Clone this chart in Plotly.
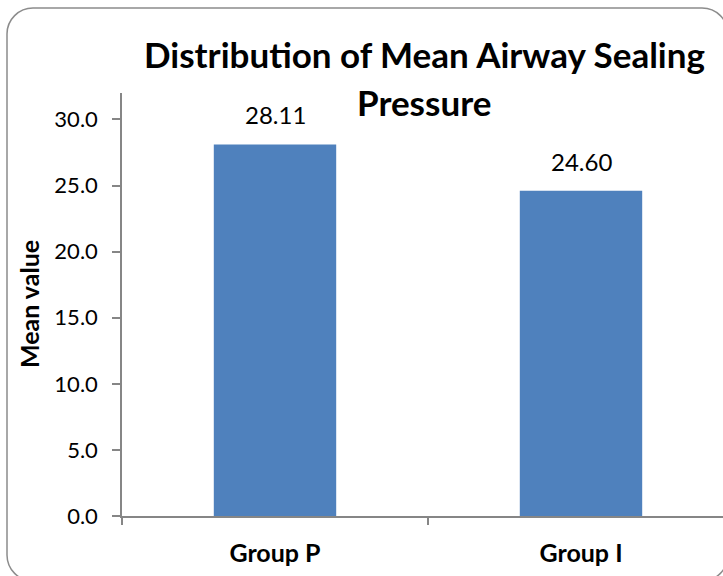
import plotly.graph_objects as go

categories = ["Group P", "Group I"]
values = [28.11, 24.60]
value_labels = ["28.11", "24.60"]
y_tick_values = [0, 5, 10, 15, 20, 25, 30]
y_tick_labels = ["0.0", "5.0", "10.0", "15.0", "20.0", "25.0", "30.0"]
title_lines = ["Distribution of Mean Airway Sealing", "Pressure"]

W, H = 723, 576
PL, PT, PB = 122, 93, 516  # plot area in page pixels
L, T = PL, PT
B = H - PB
R = 0
PW, PH = W - L - R, H - T - B


def px(x):
    return (x - L) / PW


def py(y):
    return (H - B - y) / PH


FONT = "Lato"
AX = "#868686"

fig = go.Figure()
fig.add_trace(go.Bar(
    x=categories, y=values, width=0.4,
    marker=dict(color="#4F81BD", line=dict(width=0)),
    showlegend=False, cliponaxis=False, hoverinfo="skip",
))

for c, v, t in zip(categories, values, value_labels):
    fig.add_annotation(x=c, y=v, text=t, showarrow=False, yanchor="bottom",
                       yshift=13, font=dict(family=FONT, size=24, color="#000000"))

# title, two centred lines
for line, ypix in zip(title_lines, [54, 102]):
    fig.add_annotation(text=f"<b>{line}</b>", x=px(424), y=py(ypix),
                       xref="paper", yref="paper", xanchor="center",
                       yanchor="middle", showarrow=False,
                       font=dict(family=FONT, size=35, color="#000000"))

# y-axis title
fig.add_annotation(text="<b>Mean value</b>", x=px(29), y=py(304),
                   xref="paper", yref="paper", xanchor="center",
                   yanchor="middle", textangle=-90, showarrow=False,
                   font=dict(family=FONT, size=25, color="#000000"))

# rounded outer border (cubic arcs)
r = 26
k = r * 0.5523
x0, y0, x1, y1 = 7, 8, 728, 581


def P(x, y):
    return f"{px(x)} {py(y)}"


path = (f"M {P(x0, y1 - r)} "
        f"L {P(x0, y0 + r)} "
        f"C {P(x0, y0 + r - k)} {P(x0 + r - k, y0)} {P(x0 + r, y0)} "
        f"L {P(x1 - r, y0)} "
        f"C {P(x1 - r + k, y0)} {P(x1, y0 + r - k)} {P(x1, y0 + r)} "
        f"L {P(x1, y1 - r)} "
        f"C {P(x1, y1 - r + k)} {P(x1 - r + k, y1)} {P(x1 - r, y1)} "
        f"L {P(x0 + r, y1)} "
        f"C {P(x0 + r - k, y1)} {P(x0, y1 - r + k)} {P(x0, y1 - r)} Z")
fig.add_shape(type="path", path=path, xref="paper", yref="paper",
              line=dict(color="#8C8C8C", width=1.5), layer="below")

fig.update_layout(
    width=W, height=H,
    margin=dict(l=L, r=R, t=T, b=B, autoexpand=False),
    paper_bgcolor="white", plot_bgcolor="white",
    font=dict(family=FONT, color="#000000"),
    bargap=0.6,
)
fig.update_xaxes(
    type="category", range=[-0.5, -0.5 + PW / 306], showline=True, linecolor=AX,
    linewidth=1.5, ticks="outside", tickson="boundaries", ticklen=7,
    tickcolor=AX, tickwidth=1.5, showgrid=False, zeroline=False,
    tickfont=dict(family=FONT, size=25, color="#000000"),
    ticklabelstandoff=14, automargin=False,
    tickvals=categories, ticktext=[f"<b>{c}</b>" for c in categories],
)
fig.update_yaxes(
    range=[0, 32], tickvals=y_tick_values, ticktext=y_tick_labels,
    showline=True, linecolor=AX, linewidth=1.5, ticks="outside", ticklen=8,
    tickcolor=AX, tickwidth=1.5, showgrid=False, zeroline=False,
    tickfont=dict(family=FONT, size=22, color="#000000"),
    ticklabelstandoff=10, automargin=False,
)

fig.write_html(
    "out.html",
    config={"displayModeBar": False},
    post_script="document.body.style.margin='0';"
                "document.documentElement.style.overflow='hidden';",
)
